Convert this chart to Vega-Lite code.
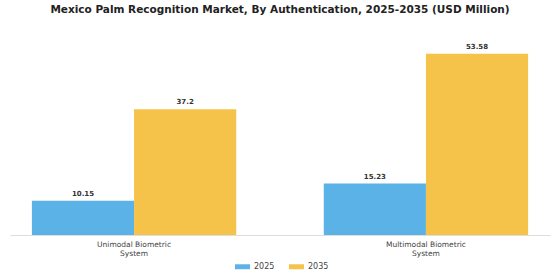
{
  "$schema": "https://vega.github.io/schema/vega-lite/v6.json",
  "autosize": {"type": "none"},
  "width": 540,
  "height": 190,
  "padding": {"left": 10, "top": 45, "right": 10, "bottom": 45},
  "background": "white",
  "config": {"view": {"stroke": null}},
  "title": {
    "text": "Mexico Palm Recognition Market, By Authentication, 2025-2035 (USD Million)",
    "font": "DejaVu Sans",
    "fontSize": 10.5,
    "fontWeight": "bold",
    "color": "#222222",
    "anchor": "middle",
    "offset": 27
  },
  "data": {
    "values": [
      {"segment": "Unimodal Biometric System", "year": "2025", "value": 10.15},
      {"segment": "Unimodal Biometric System", "year": "2035", "value": 37.2},
      {"segment": "Multimodal Biometric System", "year": "2025", "value": 15.23},
      {"segment": "Multimodal Biometric System", "year": "2035", "value": 53.58}
    ]
  },
  "encoding": {
    "x": {
      "field": "segment",
      "type": "nominal",
      "sort": ["Unimodal Biometric System", "Multimodal Biometric System"],
      "scale": {"paddingInner": 0.3, "paddingOuter": 0.075},
      "axis": {
        "title": null,
        "labelAngle": 0,
        "labelFont": "DejaVu Sans",
        "labelFontSize": 7.5,
        "labelColor": "#444444",
        "labelExpr": "[replace(datum.label, ' System', ''), 'System']",
        "labelLineHeight": 9,
        "ticks": false,
        "domainColor": "#dddddd",
        "labelPadding": 5
      }
    },
    "xOffset": {"field": "year", "type": "nominal"},
    "y": {
      "field": "value",
      "type": "quantitative",
      "scale": {"domain": [0, 56.2]},
      "axis": null
    }
  },
  "layer": [
    {
      "mark": {"type": "bar"},
      "encoding": {
        "color": {
          "field": "year",
          "type": "nominal",
          "scale": {"domain": ["2025", "2035"], "range": ["#5BB2E6", "#F6C34A"]},
          "legend": {
            "title": null,
            "orient": "none",
            "legendX": 225,
            "legendY": 214,
            "direction": "horizontal",
            "labelFont": "DejaVu Sans",
            "labelFontSize": 8,
            "labelColor": "#444444",
            "symbolType": "M-1,-0.33H1V0.33H-1Z",
            "symbolSize": 225,
            "symbolStrokeWidth": 0,
            "columnPadding": 14
          }
        }
      }
    },
    {
      "mark": {"type": "text", "dy": -7, "font": "DejaVu Sans", "fontSize": 7, "fontWeight": "bold", "color": "#333333"},
      "encoding": {
        "text": {"field": "value", "type": "nominal"}
      }
    }
  ]
}
